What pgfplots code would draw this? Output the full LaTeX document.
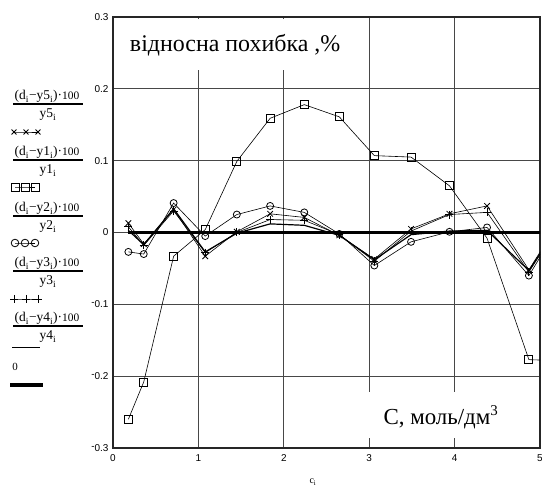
\documentclass[border=0pt]{standalone}
\usepackage{fontspec}
\setmainfont{Liberation Serif}
\newfontfamily\tickfont{Liberation Sans}
\usepackage{pgfplots}
\pgfplotsset{compat=1.18}
\newcommand{\mneg}{\raisebox{.45ex}{-}}
\newcommand{\fracentry}[2]{%
  \draw[line width=1.1bp] (axis cs:13,{489-#1}) -- (axis cs:83,{489-#1});
  \node[font=\fontsize{13.5}{15}\selectfont, anchor=base, inner sep=0pt] at (axis cs:47,{489-#1+4}) {(d\textsubscript{i}−y#2\textsubscript{i})·{\fontsize{11.5}{12}\selectfont 100}};
  \node[font=\fontsize{13.5}{15}\selectfont, anchor=base, inner sep=0pt] at (axis cs:48,{489-#1-14}) {y#2\textsubscript{i}};
}
\begin{document}
\begin{tikzpicture}
\begin{axis}[
  at={(113bp,41bp)}, anchor=south west,
  scale only axis, width=427bp, height=431bp,
  xmin=0, xmax=5, ymin=-0.3, ymax=0.3,
  xtick={0,1,2,3,4,5}, ytick={-0.3,-0.2,-0.1,0,0.1,0.2,0.3},
  xticklabels={0,1,2,3,4,5},
  yticklabels={\mneg0.3,\mneg0.2,\mneg0.1,0,0.1,0.2,0.3},
  grid=major, major grid style={draw=black!72, line width=1.3bp},
  axis line style={line width=1.7bp, draw=black!85},
  tick style={draw=none},
  ticklabel style={font=\tickfont\fontsize{10}{11}\selectfont},
  yticklabel style={xshift=-1bp},
  xticklabel style={yshift=-3bp},
]
\fill[white] (rel axis cs:0.005,0.877) rectangle (rel axis cs:0.555,0.995);
\fill[white] (rel axis cs:0.574,0.023) rectangle (rel axis cs:0.965,0.130);
\node[font=\fontsize{24}{26}\selectfont] at (rel axis cs:0.286,0.935) {відносна похибка ,\%};
\node[font=\fontsize{23}{26}\selectfont] at (rel axis cs:0.768,0.072) {C, моль/дм\textsuperscript{\fontsize{15}{16}\selectfont 3}};
% squares
\addplot[black, line width=0.6bp, mark=square, mark size=4bp, mark options={solid, line width=0.8bp}] coordinates {
(0.18,-0.260)(0.36,-0.208)(0.71,-0.033)(1.08,0.004)(1.45,0.099)(1.84,0.159)(2.24,0.178)(2.65,0.161)(3.06,0.107)(3.49,0.105)(3.94,0.065)(4.38,-0.008)(4.87,-0.177)(5.33,-0.179)};
% circles
\addplot[black, line width=0.6bp, mark=o, mark size=3.5bp, mark options={solid, line width=0.8bp}] coordinates {
(0.18,-0.027)(0.36,-0.030)(0.71,0.041)(1.08,-0.005)(1.45,0.025)(1.84,0.037)(2.24,0.028)(2.65,-0.002)(3.06,-0.046)(3.49,-0.013)(3.94,0.001)(4.38,0.007)(4.87,-0.060)(5.33,0.030)};
% x marks
\addplot[black, line width=0.6bp, mark=x, mark size=4bp, mark options={solid, line width=0.8bp}] coordinates {
(0.18,0.013)(0.36,-0.016)(0.71,0.032)(1.08,-0.033)(1.45,0.001)(1.84,0.026)(2.24,0.021)(2.65,-0.004)(3.06,-0.037)(3.49,0.005)(3.94,0.026)(4.38,0.037)(4.87,-0.052)(5.33,0.035)};
% plus marks
\addplot[black, line width=0.6bp, mark=+, mark size=4bp, mark options={solid, line width=0.8bp}] coordinates {
(0.18,0.008)(0.36,-0.018)(0.71,0.030)(1.08,-0.028)(1.45,0.000)(1.84,0.018)(2.24,0.017)(2.65,-0.003)(3.06,-0.040)(3.49,0.002)(3.94,0.025)(4.38,0.028)(4.87,-0.055)(5.33,0.030)};
% plain line
\addplot[black, line width=1.2bp] coordinates {
(0.18,0.003)(0.36,-0.017)(0.71,0.033)(1.08,-0.027)(1.45,-0.001)(1.84,0.012)(2.24,0.010)(2.65,-0.004)(3.06,-0.038)(3.49,-0.003)(3.94,0.002)(4.38,0.003)(4.87,-0.053)(5.33,0.030)};
% zero line
\addplot[black, line width=3bp] coordinates {(0.18,0)(5.33,0)};
\end{axis}

\begin{axis}[
  at={(0bp,0bp)}, anchor=south west,
  scale only axis, width=542bp, height=489bp,
  xmin=0, xmax=542, ymin=0, ymax=489,
  hide axis, clip=false,
]
\fracentry{104}{5}
\fracentry{160}{1}
\fracentry{216}{2}
\fracentry{271}{3}
\fracentry{326}{4}
\node[font=\fontsize{11}{12}\selectfont] at (axis cs:15,{489-367}) {0};
\node[font=\fontsize{10}{12}\selectfont] at (axis cs:313,{489-482}) {c\textsubscript{i}};
% legend samples
\addplot[black, line width=0.6bp, mark=x, mark size=3.5bp, mark options={line width=0.8bp}] coordinates {(14,357)(26,357)(38,357)};
\addplot[black, line width=0.6bp, mark=square, mark size=4bp, mark options={line width=0.8bp}] coordinates {(15,302)(25,302)(35,302)};
\addplot[black, line width=0.6bp, mark=o, mark size=3.8bp, mark options={line width=0.8bp}] coordinates {(15,246)(25,246)(35,246)};
\addplot[black, line width=0.6bp, mark=+, mark size=4bp, mark options={line width=0.8bp}] coordinates {(14,190)(26,190)(38,190)};
\addplot[black, line width=0.9bp] coordinates {(12,142)(40,142)};
\addplot[black, line width=3.5bp] coordinates {(10,104)(43,104)};
\end{axis}
\pgfresetboundingbox
\path (0,0) rectangle (542bp,489bp);
\end{tikzpicture}
\end{document}
